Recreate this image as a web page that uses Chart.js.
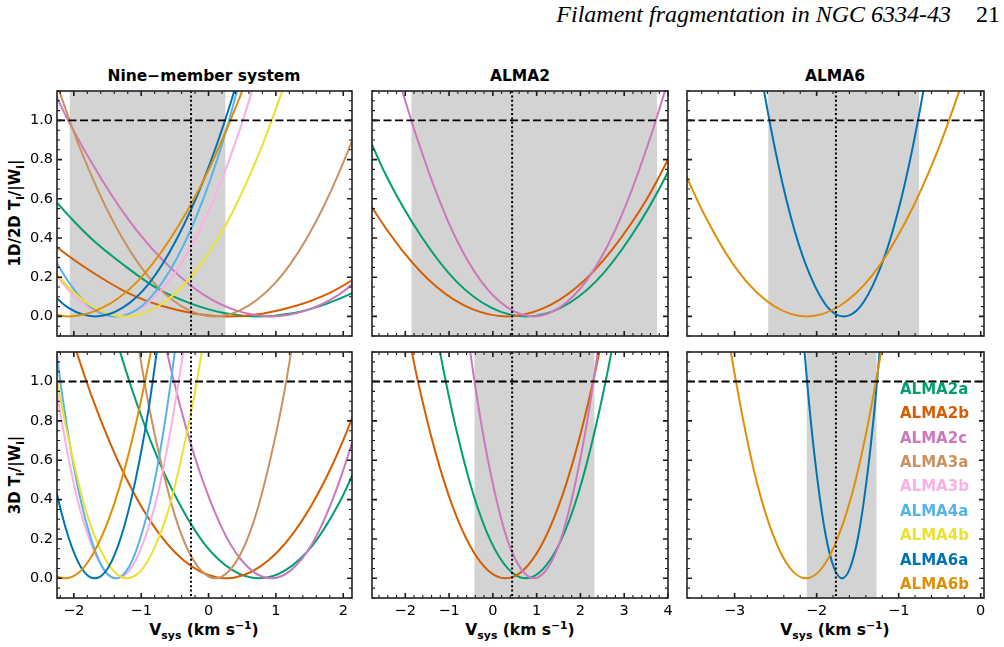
<!DOCTYPE html>
<html>
<head>
<meta charset="utf-8">
<script src="https://cdn.jsdelivr.net/npm/chart.js@4.4.1/dist/chart.umd.min.js"></script>
<style>
  body { margin: 0; width: 1004px; height: 647px; position: relative; overflow: hidden; background: #fff; font-family: "DejaVu Sans", sans-serif; color: #000; }
  canvas { position: absolute; }
  .ttl { position: absolute; font-weight: bold; font-size: 15.5px; white-space: nowrap; transform: translate(-50%, -50%); }
  .ylab { position: absolute; font-weight: bold; font-size: 15px; white-space: nowrap; transform: translate(-50%, -50%) rotate(-90deg); }
  sub, sup { font-size: 0.7em; line-height: 0; }
  #head { position: absolute; right: 4px; top: 2px; font-family: "Liberation Serif", serif; font-size: 24px; line-height: 24px; white-space: nowrap; }
</style>
</head>
<body>
<div id="head"><i>Filament fragmentation in NGC 6334-43</i><span style="margin-left:25px">21</span></div>

<div class="ttl" style="left:204px; top:76px">Nine−member system</div>
<div class="ttl" style="left:520px; top:76px">ALMA2</div>
<div class="ttl" style="left:835px; top:76px">ALMA6</div>
<div class="ylab" style="left:15px; top:213px">1D/2D T<sub>i</sub>/|W<sub>i</sub>|</div>
<div class="ylab" style="left:15px; top:475px">3D T<sub>i</sub>/|W<sub>i</sub>|</div>
<div class="ttl" style="left:204px; top:630px">V<sub>sys</sub> (km s<sup>−1</sup>)</div>
<div class="ttl" style="left:520px; top:630px">V<sub>sys</sub> (km s<sup>−1</sup>)</div>
<div class="ttl" style="left:835px; top:630px">V<sub>sys</sub> (km s<sup>−1</sup>)</div>

<script>
const names = ["ALMA2a", "ALMA2b", "ALMA2c", "ALMA3a", "ALMA3b", "ALMA4a", "ALMA4b", "ALMA6a", "ALMA6b"];
const colors = ["#029e73", "#d55e00", "#cc78bc", "#ca9161", "#fbafe4", "#56b4e9", "#ece133", "#0173b2", "#de8f05"];

const yTicks = [0, 0.2, 0.4, 0.6, 0.8, 1.0];
const xTicksNine = [-2, -1, 0, 1, 2];
const xTicksAlma2 = [-2, -1, 0, 1, 2, 3, 4];
const xTicksAlma6 = [-3, -2, -1, 0];

// shaded V_sys ranges and adopted V_sys (dotted)
const bandNine1D = [-2.06, 0.25];
const bandAlma2_1D = [-1.86, 3.75];
const bandAlma2_3D = [-0.42, 2.32];
const bandAlma6_1D = [-2.59, -0.75];
const bandAlma6_3D = [-2.12, -1.27];
const vsysNine = -0.26;
const vsysAlma2 = 0.44;
const vsysAlma6 = -1.765;

// Nine-member system, 1D/2D  [Vsys, T/|W|]
const n1_2a = [[-2.75,0.79],[-2.25,0.58],[-1.75,0.40],[-1.25,0.26],[-0.75,0.14],[-0.25,0.064],[0.25,0.016],[0.75,0],[1.25,0.016],[1.75,0.064],[2.25,0.14],[2.75,0.26]];
const n1_2b = [[-2.7,0.49],[-2.2,0.34],[-1.7,0.22],[-1.2,0.12],[-0.7,0.054],[-0.2,0.014],[0.3,0],[0.8,0.014],[1.3,0.054],[1.8,0.12],[2.3,0.22],[2.8,0.34]];
const n1_2c = [[-2.57,1.35],[-2.07,0.99],[-1.57,0.69],[-1.07,0.44],[-0.57,0.25],[-0.07,0.11],[0.43,0.028],[0.93,0],[1.43,0.028],[1.93,0.11],[2.43,0.25]];
const n1_3a = [[-2.41,1.34],[-1.91,0.86],[-1.41,0.48],[-0.91,0.21],[-0.41,0.054],[0.09,0],[0.59,0.054],[1.09,0.21],[1.59,0.48],[2.09,0.86],[2.59,1.34]];
const n1_3b = [[-2.59,0.40],[-2.19,0.18],[-1.79,0.045],[-1.39,0],[-0.99,0.045],[-0.59,0.18],[-0.19,0.40],[0.21,0.71],[0.61,1.11],[1.01,1.60]];
const n1_4a = [[-2.58,0.51],[-2.18,0.23],[-1.78,0.056],[-1.38,0],[-0.98,0.056],[-0.58,0.23],[-0.18,0.51],[0.22,0.90],[0.62,1.41]];
const n1_4b = [[-2.74,0.47],[-2.24,0.21],[-1.74,0.053],[-1.24,0],[-0.74,0.053],[-0.24,0.21],[0.26,0.47],[0.76,0.84],[1.26,1.31]];
const n1_6a = [[-2.48,0.17],[-2.08,0.043],[-1.68,0],[-1.28,0.043],[-0.88,0.17],[-0.48,0.39],[-0.08,0.69],[0.32,1.08],[0.72,1.56]];
const n1_6b = [[-2.58,0.043],[-2.08,0],[-1.58,0.043],[-1.08,0.17],[-0.58,0.39],[-0.08,0.69],[0.42,1.08],[0.92,1.55]];

// Nine-member system, 3D
const n3_2a = [[-1.65,1.56],[-1.25,1.08],[-0.85,0.69],[-0.45,0.39],[-0.05,0.17],[0.35,0.043],[0.75,0],[1.15,0.043],[1.55,0.17],[1.95,0.39],[2.35,0.69]];
const n3_2b = [[-2.24,1.45],[-1.74,0.93],[-1.24,0.52],[-0.74,0.23],[-0.24,0.058],[0.26,0],[0.76,0.058],[1.26,0.23],[1.76,0.52],[2.26,0.93],[2.76,1.45]];
const n3_2c = [[-0.87,1.56],[-0.57,1.08],[-0.27,0.69],[0.03,0.39],[0.33,0.17],[0.63,0.043],[0.93,0],[1.23,0.043],[1.53,0.17],[1.83,0.39],[2.13,0.69],[2.43,1.08]];
const n3_3a = [[-1.1,1.30],[-0.9,0.90],[-0.7,0.58],[-0.5,0.32],[-0.3,0.14],[-0.1,0.036],[0.1,0],[0.3,0.036],[0.5,0.14],[0.7,0.32],[0.9,0.58],[1.1,0.90],[1.3,1.30]];
const n3_3b = [[-2.56,1.69],[-2.36,1.18],[-2.16,0.76],[-1.96,0.42],[-1.76,0.19],[-1.56,0.047],[-1.36,0],[-1.16,0.047],[-0.96,0.19],[-0.76,0.42],[-0.56,0.76],[-0.36,1.18]];
const n3_4a = [[-2.38,1.48],[-2.18,0.95],[-1.98,0.53],[-1.78,0.24],[-1.58,0.059],[-1.38,0],[-1.18,0.059],[-0.98,0.24],[-0.78,0.53],[-0.58,0.95],[-0.38,1.48]];
const n3_4b = [[-2.41,1.34],[-2.21,0.93],[-2.01,0.60],[-1.81,0.33],[-1.61,0.15],[-1.41,0.037],[-1.21,0],[-1.01,0.037],[-0.81,0.15],[-0.61,0.33],[-0.41,0.60],[-0.21,0.93],[-0.01,1.34]];
const n3_6a = [[-2.49,0.86],[-2.29,0.49],[-2.09,0.22],[-1.89,0.054],[-1.69,0],[-1.49,0.054],[-1.29,0.22],[-1.09,0.49],[-0.89,0.86],[-0.69,1.35]];
const n3_6b = [[-2.63,0.18],[-2.38,0.044],[-2.13,0],[-1.88,0.044],[-1.63,0.18],[-1.38,0.40],[-1.13,0.71],[-0.88,1.11],[-0.63,1.60]];

// ALMA2, 1D/2D and 3D
const a1_2a = [[-3.24,1.13],[-2.44,0.72],[-1.64,0.41],[-0.84,0.18],[-0.04,0.045],[0.76,0],[1.56,0.045],[2.36,0.18],[3.16,0.41],[3.96,0.72],[4.76,1.13]];
const a1_2b = [[-3.68,0.94],[-2.88,0.60],[-2.08,0.34],[-1.28,0.15],[-0.48,0.038],[0.32,0],[1.12,0.038],[1.92,0.15],[2.72,0.34],[3.52,0.60],[4.32,0.94]];
const a1_2c = [[-2.67,1.66],[-2.07,1.15],[-1.47,0.74],[-0.87,0.41],[-0.27,0.18],[0.33,0.046],[0.93,0],[1.53,0.046],[2.13,0.18],[2.73,0.41],[3.33,0.74],[3.93,1.15],[4.53,1.66]];
const a3_2a = [[-1.65,1.73],[-1.25,1.2],[-0.85,0.77],[-0.45,0.43],[-0.05,0.19],[0.35,0.048],[0.75,0],[1.15,0.048],[1.55,0.19],[1.95,0.43],[2.35,0.77],[2.75,1.2],[3.15,1.73]];
const a3_2b = [[-2.11,1.44],[-1.71,1.0],[-1.31,0.64],[-0.91,0.36],[-0.51,0.16],[-0.11,0.04],[0.29,0],[0.69,0.04],[1.09,0.16],[1.49,0.36],[1.89,0.64],[2.29,1.0],[2.69,1.44]];
const a3_2c = [[-0.86,1.75],[-0.56,1.22],[-0.26,0.78],[0.04,0.44],[0.34,0.19],[0.64,0.049],[0.94,0],[1.24,0.049],[1.54,0.19],[1.84,0.44],[2.14,0.78],[2.44,1.22],[2.74,1.75]];

// ALMA6, 1D/2D and 3D
const b1_6a = [[-2.87,1.76],[-2.67,1.22],[-2.47,0.78],[-2.27,0.44],[-2.07,0.20],[-1.87,0.049],[-1.67,0],[-1.47,0.049],[-1.27,0.20],[-1.07,0.44],[-0.87,0.78],[-0.67,1.22],[-0.47,1.76]];
const b1_6b = [[-4.12,1.32],[-3.72,0.85],[-3.32,0.48],[-2.92,0.21],[-2.52,0.053],[-2.12,0],[-1.72,0.053],[-1.32,0.21],[-0.92,0.48],[-0.52,0.85],[-0.12,1.32]];
const b3_6a = [[-2.29,1.98],[-2.19,1.38],[-2.09,0.88],[-1.99,0.50],[-1.89,0.22],[-1.79,0.055],[-1.69,0],[-1.59,0.055],[-1.49,0.22],[-1.39,0.50],[-1.29,0.88],[-1.19,1.38],[-1.09,1.98]];
const b3_6b = [[-3.33,1.97],[-3.13,1.37],[-2.93,0.88],[-2.73,0.49],[-2.53,0.22],[-2.33,0.055],[-2.13,0],[-1.93,0.055],[-1.73,0.22],[-1.53,0.49],[-1.33,0.88],[-1.13,1.37],[-0.93,1.97]];

const colorOf = Object.fromEntries(names.map((n, i) => [n, colors[i]]));
const FONT = "'DejaVu Sans', sans-serif";

const decor = {
  id: "decor",
  beforeDatasetsDraw(chart, args, o) {
    const { ctx, chartArea: a, scales: { x } } = chart;
    if (!o.band) return;
    const x0 = x.getPixelForValue(o.band[0]), x1 = x.getPixelForValue(o.band[1]);
    ctx.save();
    ctx.fillStyle = "#d3d3d3";
    ctx.fillRect(x0, a.top, x1 - x0, a.bottom - a.top);
    ctx.restore();
  },
  afterDatasetsDraw(chart, args, o) {
    const { ctx, chartArea: a, scales: { x, y } } = chart;
    ctx.save();
    ctx.strokeStyle = "#000";
    // T/|W| = 1
    const y1 = y.getPixelForValue(1);
    ctx.lineWidth = 1.8;
    ctx.setLineDash([8, 3.5]);
    ctx.beginPath(); ctx.moveTo(a.left, y1); ctx.lineTo(a.right, y1); ctx.stroke();
    // adopted systemic velocity
    const xv = x.getPixelForValue(o.vsys);
    ctx.lineWidth = 2;
    ctx.setLineDash([2, 2.4]);
    ctx.beginPath(); ctx.moveTo(xv, a.top); ctx.lineTo(xv, a.bottom); ctx.stroke();
    ctx.restore();
  },
  afterDraw(chart, args, o) {
    const { ctx, chartArea: a, scales: { x, y } } = chart;
    ctx.save();
    ctx.strokeStyle = "#1a1a1a";
    const tick = (major, draw) => {
      ctx.lineWidth = major ? 1.6 : 1.1;
      ctx.beginPath(); draw(major ? 5 : 3); ctx.stroke();
    };
    for (let k = Math.ceil(x.min * 5); k <= Math.floor(x.max * 5); k++) {
      const px = x.getPixelForValue(k / 5);
      tick(k % 5 === 0, (len) => {
        ctx.moveTo(px, a.bottom); ctx.lineTo(px, a.bottom - len);
        ctx.moveTo(px, a.top); ctx.lineTo(px, a.top + len);
      });
    }
    for (let k = Math.ceil(y.min * 20); k <= Math.floor(y.max * 20); k++) {
      const py = y.getPixelForValue(k / 20);
      tick(k % 4 === 0, (len) => {
        ctx.moveTo(a.left, py); ctx.lineTo(a.left + len, py);
        ctx.moveTo(a.right, py); ctx.lineTo(a.right - len, py);
      });
    }
    ctx.lineWidth = 1.6;
    ctx.strokeStyle = "#222";
    ctx.strokeRect(a.left, a.top, a.right - a.left, a.bottom - a.top);
    if (o.legend) {
      ctx.font = "bold 15px " + FONT;
      ctx.textAlign = "left";
      ctx.textBaseline = "middle";
      names.forEach((n, i) => {
        ctx.fillStyle = colors[i];
        ctx.fillText(n, a.left + o.legend.dx, a.top + o.legend.dy + i * 24.4);
      });
    }
    ctx.restore();
  }
};

const fmtX = v => (v < 0 ? "\u2212" + Math.abs(v) : String(v));

function panel(p) {
  const pad = 6;
  const yw = p.yLabels ? 52 : 0;
  const xh = p.xLabels ? 24 : 0;
  const w = p.R - p.L + 2 * pad + yw, h = p.B - p.T + 2 * pad + xh;
  const cv = document.createElement("canvas");
  cv.width = w; cv.height = h;
  cv.style.left = (p.L - pad - yw) + "px";
  cv.style.top = (p.T - pad) + "px";
  cv.style.width = w + "px"; cv.style.height = h + "px";
  document.body.appendChild(cv);

  new Chart(cv, {
    type: "line",
    data: {
      datasets: p.series.map(([name, pts], i) => ({
        label: name,
        data: pts.map(([vx, vy]) => ({ x: vx, y: vy })),
        borderColor: colorOf[name],
        borderWidth: 2,
        pointRadius: 0,
        fill: false,
        cubicInterpolationMode: "monotone",
        clip: 0,
        order: -i,
      })),
    },
    options: {
      responsive: false,
      animation: false,
      devicePixelRatio: 1,
      layout: { padding: pad },
      plugins: {
        legend: { display: false },
        tooltip: { enabled: false },
        decor: { band: p.band, vsys: p.vsys, legend: p.legend },
      },
      scales: {
        x: {
          type: "linear",
          min: p.xMin,
          max: p.xMax,
          grid: { display: false, drawTicks: false },
          border: { display: false },
          afterBuildTicks: (s) => { s.ticks = p.xTicks.map((v) => ({ value: v })); },
          afterFit: (s) => { s.height = xh; s.paddingLeft = 0; s.paddingRight = 0; },
          ticks: { display: p.xLabels, padding: 5, color: "#000", maxRotation: 0, autoSkip: false, font: { family: FONT, size: 14.5 }, callback: fmtX },
        },
        y: {
          min: -0.1,
          max: 1.15,
          grid: { display: false, drawTicks: false },
          border: { display: false },
          afterBuildTicks: (s) => { s.ticks = yTicks.map((v) => ({ value: v })); },
          afterFit: (s) => { s.width = yw; s.paddingTop = 0; s.paddingBottom = 0; },
          ticks: { display: p.yLabels, padding: 4, color: "#000", font: { family: FONT, size: 14.5 }, callback: (v) => v.toFixed(1) },
        },
      },
    },
    plugins: [decor],
  });
}

const nineSeries1D = [["ALMA2a", n1_2a], ["ALMA2b", n1_2b], ["ALMA2c", n1_2c], ["ALMA3a", n1_3a], ["ALMA3b", n1_3b], ["ALMA4a", n1_4a], ["ALMA4b", n1_4b], ["ALMA6a", n1_6a], ["ALMA6b", n1_6b]];
const nineSeries3D = [["ALMA2a", n3_2a], ["ALMA2b", n3_2b], ["ALMA2c", n3_2c], ["ALMA3a", n3_3a], ["ALMA3b", n3_3b], ["ALMA4a", n3_4a], ["ALMA4b", n3_4b], ["ALMA6a", n3_6a], ["ALMA6b", n3_6b]];

panel({ L: 57, T: 91, R: 352, B: 336, xMin: -2.25, xMax: 2.13, xTicks: xTicksNine, yLabels: true, xLabels: false, band: bandNine1D, vsys: vsysNine, series: nineSeries1D });
panel({ L: 372, T: 91, R: 668, B: 336, xMin: -2.76, xMax: 4.0, xTicks: xTicksAlma2, yLabels: false, xLabels: false, band: bandAlma2_1D, vsys: vsysAlma2, series: [["ALMA2a", a1_2a], ["ALMA2b", a1_2b], ["ALMA2c", a1_2c]] });
panel({ L: 687, T: 91, R: 984, B: 336, xMin: -3.58, xMax: 0.04, xTicks: xTicksAlma6, yLabels: false, xLabels: false, band: bandAlma6_1D, vsys: vsysAlma6, series: [["ALMA6a", b1_6a], ["ALMA6b", b1_6b]] });
panel({ L: 57, T: 352, R: 352, B: 598, xMin: -2.25, xMax: 2.13, xTicks: xTicksNine, yLabels: true, xLabels: true, band: null, vsys: vsysNine, series: nineSeries3D });
panel({ L: 372, T: 352, R: 668, B: 598, xMin: -2.76, xMax: 4.0, xTicks: xTicksAlma2, yLabels: false, xLabels: true, band: bandAlma2_3D, vsys: vsysAlma2, series: [["ALMA2a", a3_2a], ["ALMA2b", a3_2b], ["ALMA2c", a3_2c]] });
panel({ L: 687, T: 352, R: 984, B: 598, xMin: -3.58, xMax: 0.04, xTicks: xTicksAlma6, yLabels: false, xLabels: true, band: bandAlma6_3D, vsys: vsysAlma6, legend: { dx: 213, dy: 38 }, series: [["ALMA6a", b3_6a], ["ALMA6b", b3_6b]] });
</script>
</body>
</html>
